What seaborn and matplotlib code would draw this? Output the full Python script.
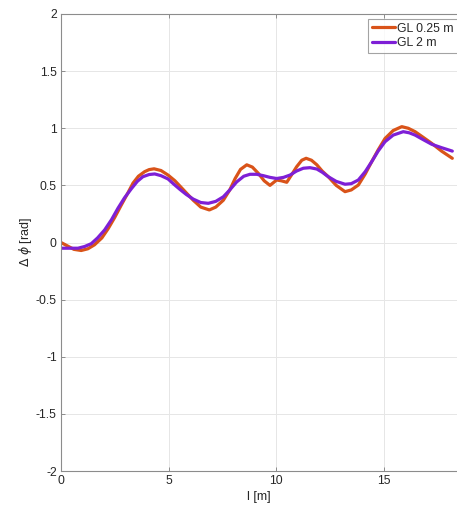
import matplotlib
matplotlib.use("Agg")
import matplotlib.pyplot as plt
import seaborn as sns
import pandas as pd

# GL 0.25 m series
x_gl025 = [0.0, 0.3, 0.6, 0.94, 1.25, 1.56, 1.9, 2.19, 2.5, 2.81, 3.1, 3.35, 3.6, 3.89,
           4.1, 4.33, 4.65, 4.98, 5.3, 5.6, 5.9, 6.15, 6.5, 6.9, 7.2, 7.55, 7.85, 8.1,
           8.35, 8.64, 8.9, 9.18, 9.45, 9.72, 10.03, 10.25, 10.5, 10.75, 10.96, 11.2,
           11.4, 11.65, 11.9, 12.15, 12.43, 12.8, 13.21, 13.5, 13.83, 14.15, 14.45,
           14.75, 15.07, 15.45, 15.85, 16.15, 16.47, 16.85, 17.24, 17.7, 18.2]
y_gl025 = [0.00, -0.03, -0.06, -0.07, -0.055, -0.02, 0.04, 0.12, 0.22, 0.33, 0.43, 0.52,
           0.58, 0.62, 0.638, 0.645, 0.63, 0.59, 0.54, 0.48, 0.42, 0.37, 0.31, 0.285,
           0.31, 0.37, 0.46, 0.56, 0.64, 0.68, 0.66, 0.605, 0.54, 0.50, 0.547, 0.54,
           0.527, 0.60, 0.663, 0.72, 0.737, 0.72, 0.68, 0.625, 0.576, 0.50, 0.445, 0.46,
           0.503, 0.60, 0.707, 0.81, 0.91, 0.98, 1.014, 1.0, 0.97, 0.92, 0.868, 0.80, 0.737]

# GL 2 m series
x_gl2 = [0.0, 0.4, 0.79, 1.1, 1.41, 1.7, 2.03, 2.35, 2.65, 2.95, 3.27, 3.55, 3.81, 4.1,
         4.36, 4.65, 4.98, 5.25, 5.53, 5.83, 6.15, 6.5, 6.85, 7.2, 7.55, 7.85, 8.17, 8.5,
         8.79, 9.1, 9.41, 9.72, 10.03, 10.35, 10.65, 10.95, 11.27, 11.58, 11.9, 12.15,
         12.43, 12.8, 13.21, 13.5, 13.83, 14.15, 14.45, 14.75, 15.07, 15.45, 15.92, 16.2,
         16.47, 16.85, 17.24, 17.7, 18.2]
y_gl2 = [-0.05, -0.05, -0.05, -0.035, -0.01, 0.04, 0.11, 0.20, 0.30, 0.39, 0.47, 0.535,
         0.576, 0.595, 0.60, 0.585, 0.556, 0.51, 0.465, 0.42, 0.38, 0.35, 0.343, 0.36,
         0.40, 0.46, 0.53, 0.58, 0.597, 0.597, 0.585, 0.57, 0.56, 0.57, 0.59, 0.625,
         0.65, 0.655, 0.643, 0.615, 0.576, 0.535, 0.51, 0.515, 0.547, 0.62, 0.707, 0.80,
         0.882, 0.94, 0.97, 0.96, 0.94, 0.90, 0.86, 0.83, 0.80]

series_labels = ["GL 0.25 m", "GL 2 m"]
series_colors = ["#D95319", "#7E1FD6"]

x_ticks = [0, 5, 10, 15]
y_ticks = [-2, -1.5, -1, -0.5, 0, 0.5, 1, 1.5, 2]
y_ticklabels = ["-2", "-1.5", "-1", "-0.5", "0", "0.5", "1", "1.5", "2"]

df = pd.concat([
    pd.DataFrame({"l": x_gl025, "dphi": y_gl025, "series": series_labels[0]}),
    pd.DataFrame({"l": x_gl2, "dphi": y_gl2, "series": series_labels[1]}),
], ignore_index=True)

sns.set_theme(style="white")
plt.rcParams["font.family"] = ["Liberation Sans", "DejaVu Sans"]

fig = plt.figure(figsize=(4.57, 5.05), dpi=100, facecolor="white")
left = 61 / 457
bottom = 1 - 471 / 505
top = 1 - 14 / 505
ax = fig.add_axes([left, bottom, 1.0 - left, top - bottom])
ax.set_facecolor("white")

sns.lineplot(data=df, x="l", y="dphi", hue="series", hue_order=series_labels,
             palette=series_colors, linewidth=2.3, sort=False, estimator=None, ax=ax,
             legend=False)

ax.set_xlim(0, (457 - 61) / 21.5)
ax.set_ylim(-2, 2)
ax.set_xticks(x_ticks)
ax.set_yticks(y_ticks)
ax.set_yticklabels(y_ticklabels)
ax.grid(True, color="#e6e6e6", linewidth=0.7)
ax.set_axisbelow(True)
for s in ["left", "bottom", "top"]:
    ax.spines[s].set_visible(True)
    ax.spines[s].set_color("#8c8c8c")
    ax.spines[s].set_linewidth(0.8)
ax.spines["right"].set_visible(False)
ax.tick_params(axis="both", which="both", direction="in", length=3, width=0.7,
               color="#8c8c8c", labelsize=8.7, labelcolor="#262626", top=True,
               left=True, bottom=True, pad=3)
ax.set_xlabel("l [m]", fontsize=9, color="#262626", labelpad=3)
ax.set_ylabel(r"$\Delta$ $\phi$ [rad]", fontsize=9, color="#262626", labelpad=1)

handles = [plt.Line2D([], [], color=c, lw=2.3) for c in series_colors]
leg = fig.legend(handles, series_labels, loc="upper left",
                 bbox_to_anchor=(368 / 457, 1 - 19 / 505), fontsize=8.8,
                 frameon=True, fancybox=False, handlelength=1.9, handletextpad=0.2,
                 borderpad=0.3, labelspacing=0.2, borderaxespad=0)
leg.get_frame().set_edgecolor("#8c8c8c")
leg.get_frame().set_linewidth(0.8)
for t in leg.get_texts():
    t.set_color("#262626")

fig.savefig("out.png", dpi=100, facecolor="white")
